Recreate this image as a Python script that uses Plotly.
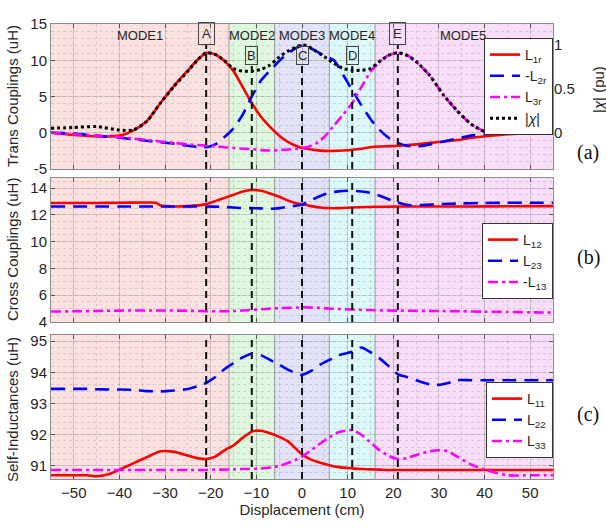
import plotly.graph_objects as go

# ---------------- data ----------------
x_top = [-55,-50,-45,-40,-37,-34,-31,-28,-25,-23,-21,-19,-17,-15,-13,-11,-9,-7,-5,-3,-1,0,1,3,5,7,9,11,13,15,17,19,21,23,25,28,31,34,37,40,45,50,55]
L1r = [0,-0.3,-0.5,-0.4,0.3,1.6,4.1,6.5,8.6,10.0,11.0,10.8,9.9,8.5,6.3,4.1,2.2,0.8,-0.4,-1.3,-1.9,-2.1,-2.2,-2.4,-2.5,-2.5,-2.45,-2.35,-2.2,-2.0,-1.9,-1.85,-1.8,-1.7,-1.6,-1.4,-1.2,-1.0,-0.7,-0.5,-0.2,-0.05,0]
mL2r = [0,-0.1,-0.4,-0.7,-0.9,-1.1,-1.3,-1.5,-1.8,-1.95,-2.0,-1.6,-0.6,0.6,2.5,5.0,7.2,8.6,9.9,11.0,11.8,12.0,11.9,11.3,10.6,10.0,8.0,5.9,3.8,1.9,0.4,-0.7,-1.4,-1.8,-1.9,-1.6,-1.2,-0.8,-0.4,-0.2,0.1,0.2,0.1]
L3r = [0,-0.2,-0.4,-0.6,-0.8,-1.0,-1.2,-1.4,-1.6,-1.7,-1.75,-1.85,-2.0,-2.1,-2.2,-2.25,-2.4,-2.45,-2.4,-2.3,-2.2,-2.1,-2.0,-1.5,-0.5,1.0,2.5,4.1,6.3,8.4,9.8,10.7,11.0,10.7,9.8,7.9,5.2,3.0,1.2,0.2,-0.1,-0.1,0]
chi = [0.05,0.06,0.07,0.03,0.03,0.13,0.34,0.53,0.70,0.82,0.91,0.89,0.82,0.73,0.70,0.70,0.72,0.77,0.86,0.93,0.98,1.0,0.99,0.93,0.86,0.79,0.73,0.71,0.71,0.73,0.81,0.88,0.91,0.88,0.81,0.65,0.43,0.25,0.1,0.015,0.005,0.01,0.005]

x_mid = [-55,-50,-45,-40,-35,-32,-31,-30,-25,-21,-18,-15,-13,-11,-9,-7,-5,-3,-1,0,2,4,6,8,11,14,16,18,21,24,27,30,35,40,45,50,55]
L12 = [12.88,12.88,12.88,12.9,12.92,12.9,12.7,12.65,12.65,12.8,13.15,13.5,13.75,13.85,13.8,13.6,13.35,13.05,12.85,12.8,12.65,12.55,12.5,12.5,12.55,12.58,12.6,12.6,12.62,12.62,12.62,12.62,12.62,12.63,12.64,12.65,12.65]
L23 = [12.62,12.62,12.62,12.62,12.62,12.62,12.62,12.62,12.62,12.62,12.6,12.55,12.5,12.5,12.48,12.45,12.5,12.6,12.7,12.75,13.1,13.4,13.65,13.75,13.8,13.7,13.55,13.3,12.9,12.7,12.75,12.8,12.85,12.88,12.9,12.9,12.9]
mL13 = [4.78,4.8,4.82,4.85,4.86,4.86,4.86,4.86,4.84,4.8,4.8,4.82,4.86,4.9,4.95,5.0,5.03,5.06,5.08,5.1,5.08,5.05,5.0,4.97,4.93,4.9,4.88,4.86,4.85,4.84,4.83,4.82,4.8,4.77,4.75,4.72,4.7]

x_bot = [-55,-50,-47,-45,-42,-40,-37,-34,-31,-28,-25,-23,-21,-19,-17,-15,-13,-11,-9,-7,-5,-3,-1,0,2,4,6,8,11,13,15,17,19,21,23,25,28,30,32,34,37,40,42,45,50,55]
L11 = [90.7,90.7,90.7,90.67,90.75,90.88,91.08,91.28,91.47,91.45,91.33,91.25,91.22,91.3,91.5,91.66,91.9,92.1,92.13,92.05,91.93,91.78,91.5,91.37,91.2,91.1,91.02,90.96,90.92,90.9,90.89,90.88,90.87,90.87,90.87,90.87,90.87,90.87,90.87,90.87,90.87,90.87,90.87,90.87,90.87,90.87]
L22 = [93.47,93.47,93.47,93.46,93.45,93.45,93.44,93.4,93.39,93.42,93.47,93.55,93.66,93.85,94.1,94.3,94.48,94.6,94.55,94.4,94.25,94.08,93.95,93.92,94.05,94.25,94.4,94.55,94.66,94.8,94.65,94.45,94.2,93.94,93.85,93.75,93.62,93.6,93.66,93.75,93.75,93.75,93.75,93.75,93.75,93.75]
L33 = [90.87,90.87,90.87,90.87,90.87,90.87,90.87,90.87,90.87,90.87,90.87,90.87,90.87,90.88,90.88,90.89,90.9,90.9,90.92,90.95,91.0,91.1,91.22,91.3,91.5,91.72,91.92,92.08,92.15,92.0,91.75,91.5,91.32,91.22,91.25,91.35,91.47,91.5,91.47,91.3,91.05,90.88,90.8,90.7,90.7,90.7]

mode_names = ["MODE1","MODE2","MODE3","MODE4","MODE5"]
mode_edges = [-55,-16,-6,6,16,55]
mode_label_x = [-35.5,-11,0,11,35.3]
point_names = ["A","B","C","D","E"]
point_x = [-21,-11,0,11,21]
x_ticks = [-50,-40,-30,-20,-10,0,10,20,30,40,50]

# ---------------- style ----------------
mode_colors = ["#fce1e1","#def7de","#e2e2f8","#ddf8f8","#f8def8"]
RED, BLUE, MAG = "#ff0000", "#0000ff", "#ff00ff"
FONT = "Liberation Sans, Arial, sans-serif"
TXT = "#262626"

fig = go.Figure()
def add(x, y, name, color, dash, xa, ya, leg, w=2.6):
    fig.add_trace(go.Scatter(x=x, y=y, name=name, mode="lines", xaxis=xa, yaxis=ya,
                             legend=leg,
                             line=dict(color=color, dash=dash, width=w, shape="spline", smoothing=0.6)))

add(x_top, L1r, "L<sub>1r</sub>", RED, "solid", "x", "y", "legend")
add(x_top, mL2r, "-L<sub>2r</sub>", BLUE, "14px,8px", "x", "y", "legend")
add(x_top, L3r, "L<sub>3r</sub>", MAG, "10px,4px,3px,4px", "x", "y", "legend")
add(x_top, chi, "|<i>χ</i>|", "#000000", "3px,3px", "x", "y4", "legend", w=3)

add(x_mid, L12, "L<sub>12</sub>", RED, "solid", "x2", "y2", "legend2")
add(x_mid, L23, "L<sub>23</sub>", BLUE, "14px,8px", "x2", "y2", "legend2")
add(x_mid, mL13, "-L<sub>13</sub>", MAG, "10px,4px,3px,4px", "x2", "y2", "legend2")

add(x_bot, L11, "L<sub>11</sub>", RED, "solid", "x3", "y3", "legend3")
add(x_bot, L22, "L<sub>22</sub>", BLUE, "14px,8px", "x3", "y3", "legend3")
add(x_bot, L33, "L<sub>33</sub>", MAG, "10px,4px,3px,4px", "x3", "y3", "legend3")

# geometry (pixels -> paper)
T, B = 24, 49
H = 528 - T - B
def fy(py):
    return (528 - B - py) / H
def fx(px):
    return (px - 51) / 502

dom_top = [fy(169), 1.0]
dom_mid = [fy(322), fy(178)]
dom_bot = [0.0, fy(335)]

grid = "rgba(110,110,110,0.22)"
mgrid = "rgba(110,110,110,0.22)"
axcommon = dict(showline=True, mirror="ticks", linecolor="#8c8c8c", linewidth=1,
                ticks="inside", ticklen=4, tickcolor="#555", showgrid=True, gridcolor=grid,
                zeroline=False, tickfont=dict(family=FONT, size=15, color=TXT),
                layer="above traces")
xcommon = dict(axcommon, range=[-55, 55], tickvals=x_ticks,
               minor=dict(dtick=5, showgrid=True, gridcolor=mgrid, griddash="dot", ticks=""))

layout = dict(
    width=606, height=528,
    margin=dict(l=51, r=53, t=T, b=B),
    paper_bgcolor="white", plot_bgcolor="rgba(0,0,0,0)",
    showlegend=True,
    xaxis=dict(xcommon, anchor="y", domain=[0, 1], showticklabels=False),
    xaxis2=dict(xcommon, anchor="y2", domain=[0, 1], showticklabels=False, matches="x"),
    xaxis3=dict(xcommon, anchor="y3", domain=[0, 1], matches="x",
                title=dict(text="Displacement (cm)", font=dict(family=FONT, size=15, color=TXT), standoff=4)),
    yaxis=dict(axcommon, domain=dom_top, range=[-5, 15], tickvals=[-5, 0, 5, 10, 15],
               ticktext=["-5", "0", "5", "10", "15"],
               minor=dict(dtick=1, showgrid=True, gridcolor=mgrid, griddash="dot", ticks="")),
    yaxis4=dict(axcommon, overlaying="y", side="right", anchor="x",
                range=[-0.412, 1.236], tickvals=[0, 0.5, 1], ticktext=["0", "0.5", "1"],
                showgrid=False, mirror=False, showline=False),
    yaxis2=dict(axcommon, domain=dom_mid, range=[4, 14.75], tickvals=[4, 6, 8, 10, 12, 14], anchor="x2",
                minor=dict(dtick=0.5, showgrid=True, gridcolor=mgrid, griddash="dot", ticks="")),
    yaxis3=dict(axcommon, domain=dom_bot, range=[90.58, 95.2], tickvals=[91, 92, 93, 94, 95], anchor="x3",
                minor=dict(dtick=0.2, showgrid=True, gridcolor=mgrid, griddash="dot", ticks="")),
)
legbase = dict(xref="paper", yref="paper", x=1.0, xanchor="right", yanchor="top",
               bgcolor="white", bordercolor="#333", borderwidth=1,
               font=dict(family=FONT, size=14, color=TXT), tracegroupgap=0,
               itemwidth=30)
layout["legend"] = dict(legbase, y=fy(38))
layout["legend2"] = dict(legbase, y=fy(223))
layout["legend3"] = dict(legbase, y=fy(382))
fig.update_layout(**layout)

# background mode bands + boundaries
shapes = []
for xa, ya in [("x", "y"), ("x2", "y2"), ("x3", "y3")]:
    for i in range(5):
        shapes.append(dict(type="rect", xref=xa, yref=ya + " domain", x0=mode_edges[i], x1=mode_edges[i+1],
                           y0=0, y1=1, fillcolor=mode_colors[i], line=dict(width=0), layer="below"))
    for e in mode_edges[1:-1]:
        shapes.append(dict(type="line", xref=xa, yref=ya + " domain", x0=e, x1=e, y0=0, y1=1,
                           line=dict(color="rgba(90,90,90,0.55)", width=1), layer="below"))

# vertical dashed markers
box_bottom = [12.1, 9.6, 9.6, 9.6, 12.1]
for px_, bb in zip(point_x, box_bottom):
    shapes.append(dict(type="line", xref="x", yref="y", x0=px_, x1=px_, y0=-5, y1=bb,
                       line=dict(color="#111", width=2, dash="7px,5px"), layer="above"))
    for ya in ["y2", "y3"]:
        shapes.append(dict(type="line", xref="x", yref=ya + " domain", x0=px_, x1=px_, y0=0, y1=1,
                           line=dict(color="#111", width=2, dash="7px,5px"), layer="above"))
fig.update_layout(shapes=shapes)

ann = []
for nm, xm in zip(mode_names, mode_label_x):
    ann.append(dict(x=xm, y=13.45, xref="x", yref="y", text=nm, showarrow=False,
                    xanchor="center", yanchor="middle",
                    font=dict(family=FONT, size=13, color=TXT)))
box_center = [13.69, 10.7, 10.7, 10.7, 13.69]
for nm, xm, yc in zip(point_names, point_x, box_center):
    big = nm in ("A", "E")
    ann.append(dict(x=xm, y=yc, xref="x", yref="y", text=nm, showarrow=False,
                    xanchor="center", yanchor="middle",
                    font=dict(family=FONT, size=13, color=TXT),
                    bordercolor="#444", borderwidth=1, borderpad=3 if big else 1))
# y titles
for txt, yc in [("Trans Couplings (uH)", fy(96)), ("Cross Couplings (uH)", fy(250)),
                ("Self-Inductances (uH)", fy(410))]:
    ann.append(dict(x=fx(12), y=yc, xref="paper", yref="paper", text=txt, textangle=-90,
                    xanchor="center", yanchor="middle",
                    showarrow=False, font=dict(family=FONT, size=15, color=TXT)))
ann.append(dict(x=fx(598), y=fy(90), xref="paper", yref="paper", text="|<i>χ</i>| (pu)",
                xanchor="center", yanchor="middle",
                textangle=-90, showarrow=False, font=dict(family=FONT, size=15, color=TXT)))
for txt, py in [("(a)", 152), ("(b)", 257), ("(c)", 414)]:
    ann.append(dict(x=fx(588), y=fy(py), xref="paper", yref="paper", text=txt,
                    xanchor="center", yanchor="middle",
                    showarrow=False, font=dict(family="Liberation Serif, Times New Roman, serif", size=20, color="#111")))
fig.update_layout(annotations=ann)

fig.write_html("out.html", config={"displayModeBar": False},
               post_script="document.body.style.margin='0';")
